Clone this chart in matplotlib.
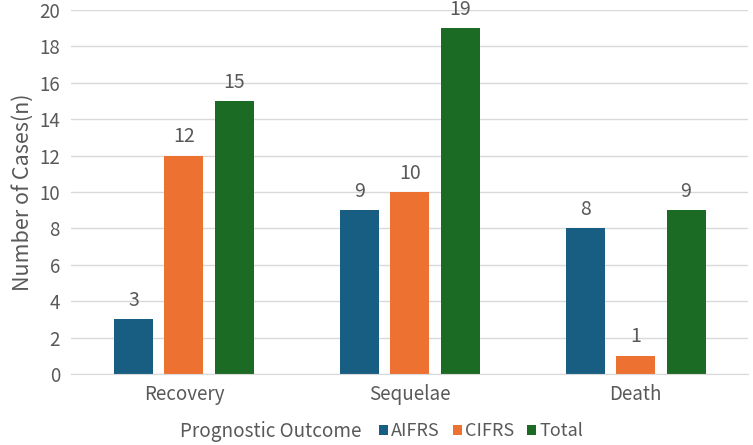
import matplotlib
matplotlib.use("Agg")
import matplotlib.pyplot as plt
import numpy as np

plt.rcParams['font.family'] = ['Noto Sans CJK SC', 'DejaVu Sans']

categories = ["Recovery", "Sequelae", "Death"]
series_names = ["AIFRS", "CIFRS", "Total"]
aifrs = [3, 9, 8]
cifrs = [12, 10, 1]
total = [15, 19, 9]

colors = ["#175e82", "#ed7232", "#1c6b24"]
text_color = "#595959"
grid_color = "#d9d9d9"

fig = plt.figure(figsize=(7.53, 4.45), dpi=100)
ax = fig.add_axes([0.0943, 0.1596, 0.8997, 0.8180])

x = np.arange(len(categories))
width = 0.1726
step = 0.2235
handles = []
for i, (vals, name) in enumerate(zip([aifrs, cifrs, total], series_names)):
    bars = ax.bar(x + (i - 1) * step, vals, width, color=colors[i], label=name, zorder=3)
    handles.append(bars)
    for b, v in zip(bars, vals):
        ax.annotate(str(v), (b.get_x() + b.get_width() / 2, v), xytext=(0, 6),
                    textcoords="offset points", ha="center", va="bottom",
                    fontsize=14, color=text_color)

ax.set_xlim(-0.5, 2.5)
ax.set_ylim(0, 20)
ax.set_yticks(range(0, 21, 2))
ax.set_xticks(x)
ax.set_xticklabels(categories)
ax.tick_params(axis="both", length=0, labelsize=13.5, labelcolor=text_color)
ax.tick_params(axis="x", pad=7)
ax.tick_params(axis="y", pad=8)
ax.yaxis.grid(True, color=grid_color, linewidth=1, zorder=0)
for s in ["top", "right", "left"]:
    ax.spines[s].set_visible(False)
ax.spines["bottom"].set_color(grid_color)
ax.spines["bottom"].set_zorder(4)

ax.set_ylabel("Number of Cases(n)", fontsize=15.5, color=text_color, labelpad=4)

fig.text(0.239, 0.031, "Prognostic Outcome", fontsize=13.6, color=text_color,
         ha="left", va="center")
fig.legend(handles=handles, labels=series_names, loc="center left",
           bbox_to_anchor=(0.503, 0.031), ncol=3, frameon=False,
           fontsize=13, labelcolor=text_color, handlelength=0.5,
           handleheight=0.5, handletextpad=0.2, columnspacing=0.7,
           borderpad=0, borderaxespad=0)

fig.savefig("out.png", dpi=100)
